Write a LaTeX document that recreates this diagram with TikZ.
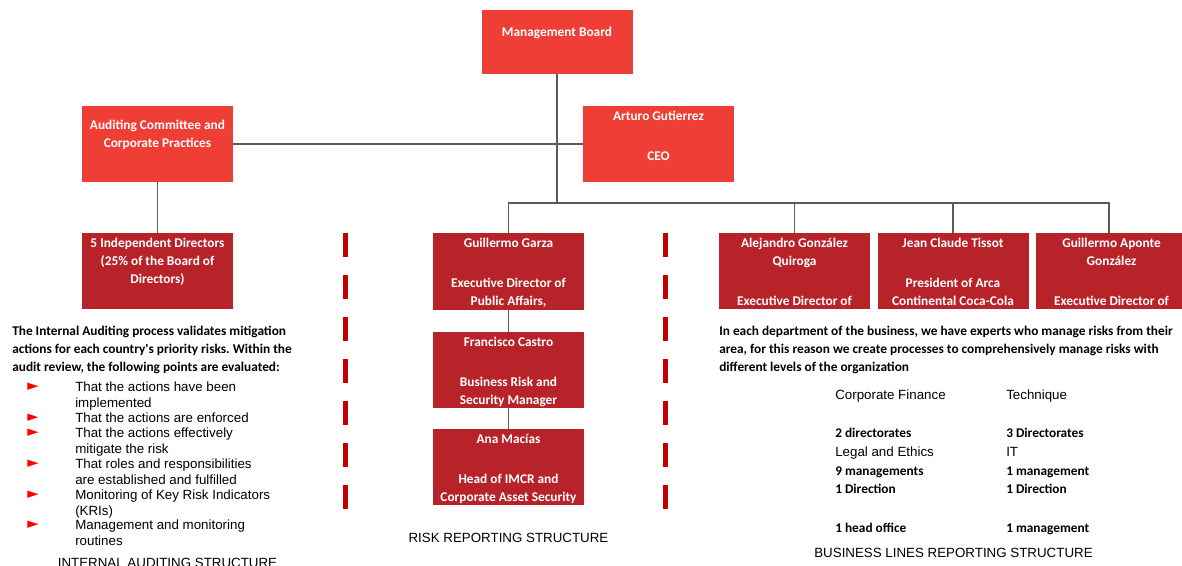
\documentclass[tikz,border=0pt]{standalone}
\usepackage{fontspec}
\setmainfont{Carlito}
\newfontfamily\arial{Liberation Sans}
\newfontfamily\symb{DejaVu Sans}
\definecolor{lightred}{HTML}{EF3E36}
\definecolor{deepred}{HTML}{B8232A}
\definecolor{barred}{HTML}{C00000}
\definecolor{linegray}{HTML}{5A5A5A}
\frenchspacing
\tikzset{
  orgbox/.style={fill=#1, minimum width=113.25pt, minimum height=57pt, inner sep=0pt},
  boxtext/.style={anchor=north, text=white, align=center, inner sep=0pt, font=\bfseries\fontsize{10}{13.5}\selectfont},
  link/.style={draw=linegray, line width=1.1pt},
  sep/.style={draw=barred, line width=3.75pt, dash pattern=on 18pt off 13.5pt},
  para/.style={anchor=north west, align=left, inner sep=0pt, font=\bfseries\fontsize{10}{13.5}\selectfont},
  item/.style={anchor=north west, align=left, inner sep=0pt, font=\arial\fontsize{10}{11.5}\selectfont},
  bullet/.style={text=red, inner sep=0pt, font=\symb\fontsize{11}{11}\selectfont},
  cell/.style={anchor=base west, inner sep=0pt, font=\arial\fontsize{10}{12}\selectfont},
  cellb/.style={anchor=base west, inner sep=0pt, font=\bfseries\fontsize{10}{12}\selectfont},
  caption/.style={anchor=base, inner sep=0pt, font=\arial\fontsize{10}{12}\selectfont}
}
\begin{document}
\begin{tikzpicture}[x=0.75pt,y=-0.75pt]
\useasboundingbox (0,0) rectangle (1182,565);
% boxes
\node[orgbox=lightred, minimum height=48pt, label={[boxtext,yshift=-13.1pt]north:Management Board}] (mb) at (557,42) {};
\node[orgbox=lightred, label={[boxtext,yshift=-10.9pt]north:{Auditing Committee and\\Corporate Practices}}] (audit) at (157.5,144) {};
\node[orgbox=lightred, label={[boxtext,yshift=-4.1pt]north:{Arturo Gutierrez\\[16.5pt]CEO}}] (ceo) at (658.5,144) {};
\node[orgbox=deepred, label={[boxtext,yshift=-4.1pt]north:{5 Independent Directors\\(25\% of the Board of\\Directors)}}] (indep) at (157.5,271) {};
\node[orgbox=deepred, minimum height=57.75pt, label={[boxtext,yshift=-4.1pt]north:{Guillermo Garza\\[16.5pt]Executive Director of\\Public Affairs,}}] (garza) at (508.5,271.5) {};
\node[orgbox=deepred, label={[boxtext,yshift=-4.1pt]north:{Francisco Castro\\[16.5pt]Business Risk and\\Security Manager}}] (fran) at (508.5,370) {};
\node[orgbox=deepred, label={[boxtext,yshift=-4.1pt]north:{Ana Macías\\[16.5pt]Head of IMCR and\\Corporate Asset Security}}] (ana) at (508.5,467) {};
\node[orgbox=deepred, label={[boxtext,yshift=-4.1pt]north:{Alejandro González\\Quiroga\\[16.5pt]Executive Director of}}] (alej) at (794.5,271) {};
\node[orgbox=deepred, label={[boxtext,yshift=-4.1pt]north:{Jean Claude Tissot\\[16.5pt]President of Arca\\Continental Coca-Cola}}] (jean) at (953,271) {};
\node[orgbox=deepred, minimum width=109.5pt, label={[boxtext,yshift=-4.1pt,xshift=1.9pt]north:{Guillermo Aponte\\González\\[16.5pt]Executive Director of}}] (aponte) at (1109,271) {};

% lines
\coordinate (bus) at (557,203);
\draw[link] (mb.south) -- (bus);
\draw[link] (audit) -- (ceo);
\foreach \n in {garza,alej,jean,aponte}
  \draw[link] (\n.north) |- (bus);
\draw[link] (audit) -- (indep);
\draw[link] (garza) -- (fran) -- (ana);

% separators
\draw[sep] (345,233) -- (345,509);
\draw[sep] (665,233) -- (665,509);

% internal auditing
\node[para] (audittxt) at (12,326) {The Internal Auditing process validates mitigation\\actions for each country\textquotesingle s priority risks. Within the\\audit review, the following points are evaluated:};
\foreach \i/\y/\t in {1/387/{That the actions have been\\implemented}, 2/418/{That the actions are enforced}, 3/433/{That the actions effectively\\mitigate the risk}, 4/464/{That roles and responsibilities\\are established and fulfilled}, 5/495/{Monitoring of Key Risk Indicators\\(KRIs)}, 6/525/{Management and monitoring\\routines}}{
  \node[bullet] (b\i) at (33,\y) {►};
  \node[item] (it\i) at (75,\y-5) {\t};
}
\node[caption] (cap1) at (167.5,567) {INTERNAL AUDITING STRUCTURE};

% risk reporting
\node[caption] (cap2) at (508.5,542) {RISK REPORTING STRUCTURE};

% business lines
\node[para] (bltxt) at (719,326) {In each department of the business, we have experts who manage risks from their\\area, for this reason we create processes to comprehensively manage risks with\\different levels of the organization};
\node[cell] (r1a) at (835,399) {Corporate Finance};
\node[cell] (r1b) at (1006,399) {Technique};
\node[cellb] (r2a) at (835,437.3) {2 directorates};
\node[cellb] (r2b) at (1006,437.3) {3 Directorates};
\node[cell] (r3a) at (835,456) {Legal and Ethics};
\node[cell] (r3b) at (1006,456) {IT};
\node[cellb] (r4a) at (835,475.3) {9 managements};
\node[cellb] (r4b) at (1006,475.3) {1 management};
\node[cellb] (r5a) at (835,493.3) {1 Direction};
\node[cellb] (r5b) at (1006,493.3) {1 Direction};
\node[cellb] (r6a) at (835,532.3) {1 head office};
\node[cellb] (r6b) at (1006,532.3) {1 management};
\node[caption] (cap3) at (953.5,557) {BUSINESS LINES REPORTING STRUCTURE};
\end{tikzpicture}
\end{document}
